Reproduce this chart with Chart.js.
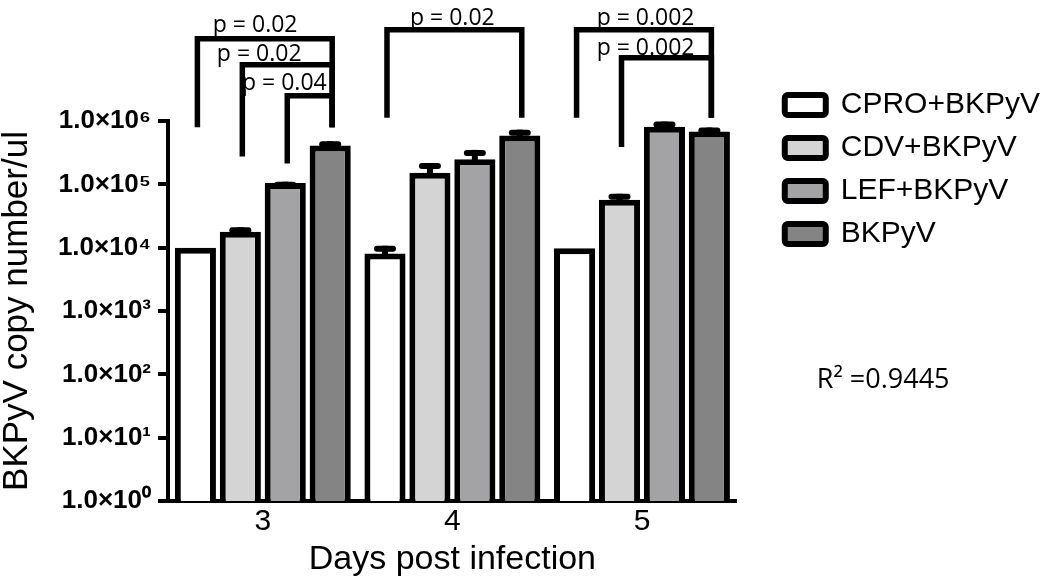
<!DOCTYPE html>
<html>
<head>
<meta charset="utf-8">
<script src="https://cdn.jsdelivr.net/npm/chart.js@4.4.1/dist/chart.umd.min.js"></script>
<style>
html,body{margin:0;padding:0;background:#fff}
#wrap{width:1050px;height:581px;position:relative}
</style>
</head>
<body>
<div id="wrap"><canvas id="c"></canvas></div>
<script>
// ---- data ----
const categories = ['3', '4', '5'];
const seriesNames = ['CPRO+BKPyV', 'CDV+BKPyV', 'LEF+BKPyV', 'BKPyV'];
const cproValues  = [1.0e4, 8.1e3, 9.8e3];
const cdvValues   = [1.78e4, 1.52e5, 5.7e4];
const lefValues   = [1.05e5, 2.5e5, 8.1e5];
const bkpyvValues = [4.1e5, 5.9e5, 6.8e5];
// mean + error (top of error bar)
const cproUpper  = [1.0e4, 1.07e4, 9.8e3];
const cdvUpper   = [2.1e4, 2.17e5, 7.1e4];
const lefUpper   = [1.1e5, 3.5e5, 9.8e5];
const bkpyvUpper = [4.8e5, 7.3e5, 7.9e5];
const tickValues = [1, 10, 100, 1e3, 1e4, 1e5, 1e6];
const tickLabels = ['1.0×10⁰', '1.0×10¹', '1.0×10²', '1.0×10³', '1.0×10⁴', '1.0×10⁵', '1.0×10⁶'];
// significance brackets (levels in log10 units of the y axis)
const bracketDay        = [0, 0, 0, 1, 2, 2];
const bracketFrom       = [0, 1, 2, 0, 0, 1];
const bracketTo         = [3, 3, 3, 3, 3, 3];
const bracketLevel      = [7.30, 6.89, 6.40, 7.44, 7.44, 7.00];
const bracketFromBottom = [5.90, 5.44, 5.33, 6.05, 6.05, 5.59];
const bracketToBottom   = [5.90, 5.90, 5.90, 6.05, 6.05, 6.05];
const pLabels      = ['p = 0.02', 'p = 0.02', 'p = 0.04', 'p = 0.02', 'p = 0.002', 'p = 0.002'];
const pLabelLevel  = [7.40, 6.94, 6.49, 7.52, 7.52, 7.05];
const pLabelAnchor = [1.33, 1.42, 1.98, 1.5, 1.58, 1.58];
const rSquaredText = 'R² =0.9445';

const valueArrays = [cproValues, cdvValues, lefValues, bkpyvValues];
const upperArrays = [cproUpper, cdvUpper, lefUpper, bkpyvUpper];
const fillColors = ['#ffffff', '#d4d4d4', '#a3a3a5', '#848484'];

Chart.defaults.font.family = "'Liberation Sans', Arial, sans-serif";
Chart.defaults.color = '#000';

function rr(ctx, x, y, w, h, r) {
  ctx.beginPath();
  ctx.moveTo(x + r, y);
  ctx.lineTo(x + w - r, y);
  ctx.arcTo(x + w, y, x + w, y + r, r);
  ctx.lineTo(x + w, y + h - r);
  ctx.arcTo(x + w, y + h, x + w - r, y + h, r);
  ctx.lineTo(x + r, y + h);
  ctx.arcTo(x, y + h, x, y + h - r, r);
  ctx.lineTo(x, y + r);
  ctx.arcTo(x, y, x + r, y, r);
  ctx.closePath();
}

const annotate = {
  id: 'annotate',
  afterDatasetsDraw(chart) {
    const ctx = chart.ctx, ys = chart.scales.y;
    ctx.save();
    ctx.fillStyle = '#000';
    upperArrays.forEach((arr, di) => {
      const meta = chart.getDatasetMeta(di);
      arr.forEach((u, j) => {
        const v = valueArrays[di][j];
        if (u <= v) return;
        const bar = meta.data[j];
        const yTop = ys.getPixelForValue(u);
        ctx.fillRect(bar.x - 3, yTop, 6, bar.y - yTop + 2);
        rr(ctx, bar.x - 11, yTop, 22, 6, 3);
        ctx.fill();
      });
    });
    ctx.restore();
  },
  afterDraw(chart) {
    const ctx = chart.ctx, ys = chart.scales.y;
    const px = (day, s) => chart.getDatasetMeta(s).data[day].x;
    const py = (lg) => ys.getPixelForValue(Math.pow(10, lg));
    ctx.save();
    // p-value labels
    ctx.font = "23px 'Open Sans', sans-serif";
    ctx.fillStyle = '#000';
    ctx.textAlign = 'center';
    ctx.textBaseline = 'alphabetic';
    pLabels.forEach((t, i) => {
      const a = pLabelAnchor[i], lo = Math.floor(a), hi = Math.min(3, lo + 1);
      const x0 = px(bracketDay[i], lo), x1 = px(bracketDay[i], hi);
      const x = x0 + (x1 - x0) * (a - lo);
      ctx.fillText(t, x, py(pLabelLevel[i]));
    });
    // brackets
    ctx.strokeStyle = '#000';
    ctx.lineWidth = 5.5;
    ctx.lineJoin = 'miter';
    ctx.lineCap = 'butt';
    bracketDay.forEach((d, i) => {
      const xa = px(d, bracketFrom[i]) + 2, xb = px(d, bracketTo[i]) + 2;
      const yl = py(bracketLevel[i]);
      ctx.beginPath();
      ctx.moveTo(xa, py(bracketFromBottom[i]));
      ctx.lineTo(xa, yl);
      ctx.lineTo(xb, yl);
      ctx.lineTo(xb, py(bracketToBottom[i]));
      ctx.stroke();
    });
    // R squared
    ctx.font = "27px 'Open Sans', sans-serif";
    ctx.textAlign = 'left';
    ctx.fillText(rSquaredText, chart.chartArea.right + 80, chart.chartArea.top + 267);
    ctx.restore();
  }
};

const datasets = seriesNames.map((name, i) => ({
  label: name,
  data: valueArrays[i],
  backgroundColor: fillColors[i],
  borderColor: '#000',
  borderWidth: 6,
  categoryPercentage: 0.948,
  barPercentage: 0.915
}));

new Chart(document.getElementById('c'), {
  type: 'bar',
  data: { labels: categories, datasets },
  plugins: [annotate],
  options: {
    responsive: true,
    maintainAspectRatio: false,
    animation: false,
    layout: { padding: { top: 77, right: 0, bottom: 0, left: 0 } },
    plugins: {
      title: { display: true, text: '', fullSize: false, padding: 0, font: { size: 44, lineHeight: 1 } },
      tooltip: { enabled: false },
      legend: {
        position: 'right',
        align: 'start',
        maxWidth: 400,
        labels: {
          boxWidth: 41, boxHeight: 20, padding: 13,
          font: { size: 30 }, color: '#000',
          useBorderRadius: true, borderRadius: 3
        }
      }
    },
    scales: {
      x: {
        type: 'category',
        grid: { display: false, drawTicks: false },
        border: { display: true, width: 4, color: '#000' },
        ticks: { font: { size: 30, lineHeight: 1 }, padding: 6, color: '#000' },
        title: { display: true, text: 'Days post infection', font: { size: 34, lineHeight: 1 }, padding: { top: 0, bottom: 4 }, color: '#000' }
      },
      y: {
        type: 'logarithmic',
        min: 1, max: 1e6,
        afterBuildTicks: (s) => { s.ticks = tickValues.map(v => ({ value: v })); },
        afterFit: (s) => { s.width = 168; },
        ticks: {
          autoSkip: false, padding: 7, color: '#000',
          font: { size: 26, weight: 'bold' },
          callback: (v, i) => tickLabels[i]
        },
        grid: { display: true, drawOnChartArea: false, drawTicks: true, tickLength: 10, lineWidth: 4, color: '#000' },
        border: { display: true, width: 4, color: '#000' },
        title: { display: true, text: 'BKPyV copy number/ul', font: { size: 35, lineHeight: 1 }, padding: { top: 0, bottom: 0 }, color: '#000' }
      },
      pad: {
        type: 'linear', position: 'right', display: true,
        grid: { display: false }, border: { display: false }, ticks: { display: false },
        afterFit: (s) => { s.width = 35; }
      }
    }
  }
});
</script>
</body>
</html>
